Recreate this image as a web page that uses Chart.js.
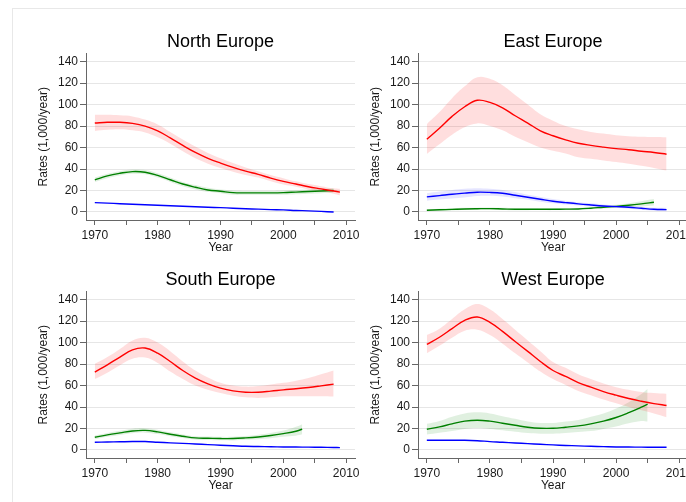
<!DOCTYPE html>
<html>
<head>
<meta charset="utf-8">
<script src="https://cdn.jsdelivr.net/npm/chart.js@4.4.1/dist/chart.umd.min.js"></script>
<style>
  html, body { margin: 0; padding: 0; background: #fff; width: 686px; height: 502px; overflow: hidden; }
  #frame { position: absolute; left: 12px; top: 8px; width: 800px; height: 600px;
           border-top: 1px solid #e8e8e8; border-left: 1px solid #e8e8e8; }
  canvas { position: absolute; }
</style>
</head>
<body>
<div id="frame"></div>
<canvas id="north" width="335" height="234" style="left:32px;top:22px"></canvas>
<canvas id="east" width="336" height="234" style="left:364px;top:22px"></canvas>
<canvas id="south" width="335" height="234" style="left:32px;top:260px"></canvas>
<canvas id="west" width="336" height="234" style="left:364px;top:260px"></canvas>
<script>
// axis ticks
const xTicks = [1970, 1975, 1980, 1985, 1990, 1995, 2000, 2005, 2010];
const yTicks = [0, 20, 40, 60, 80, 100, 120, 140];

// ---- North Europe ----
const northRedYears = [1970,1972,1974,1976,1978,1980,1982,1984,1986,1988,1990,1992,1994,1996,1998,2000,2002,2004,2006,2008,2009];
const northRed   = [82.8,83.5,83.5,82.5,80,75.5,69,62,55.5,50,45.5,41.5,38,35,31.5,28.5,26,23.5,21.5,19.5,18.5];
const northRedHi = [90.5,90.5,90,89,86,81.5,74.5,67.5,61,55,50,45.5,41.5,38,34.5,31.5,28.5,26,24,22,21.5];
const northRedLo = [75.5,76.5,77,76,74,69.5,63.5,56.5,50,45,41,37.5,34.5,32,28.5,25.5,23.5,21,19,17,15.5];
const northGreenYears = [1970,1972,1974,1976,1978,1980,1982,1984,1986,1988,1990,1992,1994,1996,1998,2000,2002,2004,2006,2008];
const northGreen   = [29.9,33.6,36,37.6,37,34,30,26,23,20.5,19.3,18,17.8,17.8,17.8,18,18.5,19,19.5,20];
const northGreenHi = [32,35.5,38,39.5,39,36,32,28,25,22.5,21,20,19.5,19.5,19.5,20,20.5,21,21.5,22];
const northGreenLo = [28,31.5,34,35.5,35,32,28,24,21,18.5,17.5,16,16,16,16,16,16.5,17,17.5,18];
const northBlueYears = [1970,1972,1974,1976,1978,1980,1982,1984,1986,1988,1990,1992,1994,1996,1998,2000,2002,2004,2006,2008];
const northBlue = [8.7,8.2,7.7,7.2,6.7,6.2,5.8,5.3,4.9,4.4,4,3.5,3,2.6,2.2,1.9,1.4,1,0.5,0];

// ---- East Europe ----
const eastRedYears = [1970,1972,1974,1976,1978,1980,1982,1984,1986,1988,1990,1992,1994,1996,1998,2000,2002,2004,2006,2008];
const eastRed   = [67.8,78,89,98,104,102,97,89.6,82.8,75.6,71,67.2,64,62,60.4,59,58,56.6,55.4,53.8];
const eastRedHi = [81.8,93,106,117,125.5,124,118,109,100,91,85,80,77,74.5,73,71.5,70.5,70,69.7,69.5];
const eastRedLo = [54,63,72,79,82.5,80,76,70,65,60,57,54.5,51,49.5,48,46.5,45,43,41,38.5];
const eastBlueYears = [1970,1972,1974,1976,1978,1980,1982,1984,1986,1988,1990,1992,1994,1996,1998,2000,2002,2004,2006,2008];
const eastBlue   = [14,15.2,16.5,17.5,18.4,18.2,17.4,15.6,13.7,11.8,10,8.7,7.5,6.5,5.6,5,4.4,3.4,2.5,2.2];
const eastBlueHi = [17.5,19,20.5,21.5,22,21.5,20.5,18.5,16,14,12,10.5,9,8,7,6.3,5.8,4.8,4,3.8];
const eastBlueLo = [10.5,11.5,12.5,13.5,14.8,15,14.3,12.7,11.4,9.6,8,6.9,6,5,4.2,3.7,3,2,1,0.6];
const eastGreenYears = [1970,1972,1974,1976,1978,1980,1982,1984,1986,1988,1990,1992,1994,1996,1998,2000,2002,2004,2006];
const eastGreen   = [1.6,2,2.4,2.8,3,3.1,2.8,2.5,2.5,2.5,2.5,2.6,2.8,3.5,4.4,5.2,6.2,7.5,9];
const eastGreenHi = [2.5,3,3.4,3.8,4,4.1,3.8,3.5,3.4,3.3,3.3,3.4,3.7,4.5,5.6,6.8,8.2,10,12];
const eastGreenLo = [0.7,1,1.4,1.8,2,2.1,1.8,1.5,1.6,1.7,1.7,1.8,1.9,2.5,3.2,3.6,4.2,5,6];

// ---- South Europe ----
const southRedYears = [1970,1972,1974,1976,1978,1980,1982,1984,1986,1988,1990,1992,1994,1996,1998,2000,2002,2004,2006,2008];
const southRed   = [72.5,79.3,86.5,93.3,94.9,90.2,82.4,74,66.9,61.6,57.6,55,53.8,53.8,54.8,56,57,58.2,59.7,61.3];
const southRedHi = [80.3,86.5,94,102,104.5,100,92,82.5,74,67.5,62.5,60,59,59.5,61,62.5,64.5,67,70.5,74];
const southRedLo = [66,72,79,85,86,81,73,66,60,56,53,50.5,49,48.5,49,50,50,50,50,49.8];
const southGreenYears = [1970,1972,1974,1976,1978,1980,1982,1984,1986,1988,1990,1992,1994,1996,1998,2000,2002,2003];
const southGreen   = [11.8,14,15.9,17.7,18.2,16.8,14.6,12.8,11.2,10.9,10.6,10.6,11.2,12.1,13.4,15.2,17.4,19.3];
const southGreenHi = [13.5,15.8,17.8,19.8,20.3,18.8,16.4,14.5,12.8,12.5,12.2,12.3,13,14.2,15.8,18,21.5,24];
const southGreenLo = [10,12.2,14,15.6,16.1,14.8,12.8,11.1,9.6,9.3,9,8.9,9.4,10,11,12.4,13.3,14.6];
const southBlueYears = [1970,1972,1974,1976,1978,1980,1982,1984,1986,1988,1990,1992,1994,1996,1998,2000,2002,2004,2006,2008,2009];
const southBlue = [7.2,7.4,7.6,7.8,7.8,7.2,6.6,6.1,5.6,5,4.4,3.9,3.4,3.2,3,2.8,2.7,2.6,2.5,2.3,2.2];

// ---- West Europe ----
const westRedYears = [1970,1972,1974,1976,1978,1980,1982,1984,1986,1988,1990,1992,1994,1996,1998,2000,2002,2004,2006,2008];
const westRed   = [98.3,105,113,120.7,123.8,118.8,110.4,101,91.8,82.4,74,68.5,62.8,58.5,54.4,51,47.9,45.4,43.2,41.4];
const westRedHi = [107,113,122,131,136,131,122,112,102,92,82,76.5,70.5,66,62,58.5,56,54,53,52.3];
const westRedLo = [90,97,104.5,111,112,107,99,90,81.5,73,66,60.5,55,51,47,43.5,40,37,34,30.5];
const westGreenYears = [1970,1972,1974,1976,1978,1980,1982,1984,1986,1988,1990,1992,1994,1996,1998,2000,2002,2004,2005];
const westGreen   = [19.3,21.5,24.3,26.8,27.7,26.8,24.9,23,21.2,20.2,20.2,21.2,22.4,24.3,26.8,30.2,34.7,39.8,42.6];
const westGreenHi = [24.3,27,31,34,35,34,31.5,29,26.5,25.2,25.2,26.5,28,31,34,38.5,44.5,52,57];
const westGreenLo = [14.3,16,17.6,19.6,20.4,19.6,18.3,17,15.9,15.2,15.2,15.9,16.8,17.6,19.6,21.9,24.9,27,26.4];
const westBlueYears = [1970,1972,1974,1976,1978,1980,1982,1984,1986,1988,1990,1992,1994,1996,1998,2000,2002,2004,2006,2008];
const westBlue = [9,9,9,9,8.6,7.8,7.2,6.5,5.9,5.3,4.7,4.2,3.8,3.4,3.1,2.8,2.7,2.6,2.5,2.5];

// colours
const RED = '#ff0000', GREEN = '#008000', BLUE = '#0000ff';
const RED_BAND = 'rgba(255,0,0,0.13)';
const GREEN_BAND = 'rgba(0,128,0,0.12)';
const BLUE_BAND = 'rgba(0,0,255,0.10)';

Chart.defaults.font.family = '"Liberation Sans", Arial, sans-serif';
Chart.defaults.color = '#1a1a1a';

function pts(years, vals) {
  return years.map((x, i) => ({ x: x, y: vals[i] }));
}

// one fitted line, plus its band if lo/hi are given
function series(years, mean, color, band, lo, hi) {
  const sets = [];
  if (lo && hi) {
    sets.push({ data: pts(years, hi), borderColor: 'transparent', borderWidth: 0,
      backgroundColor: band, fill: '+1', pointRadius: 0, tension: 0.4, order: 2 });
    sets.push({ data: pts(years, lo), borderColor: 'transparent', borderWidth: 0,
      fill: false, pointRadius: 0, tension: 0.4, order: 2 });
  }
  sets.push({ data: pts(years, mean), borderColor: color, borderWidth: 1.4,
    fill: false, pointRadius: 0, tension: 0.4, order: 1 });
  return sets;
}

function drawPanel(id, title, datasets) {
  const tickFont = { size: 12 };
  new Chart(document.getElementById(id), {
    type: 'line',
    data: { datasets: datasets },
    options: {
      responsive: false,
      animation: false,
      layout: { padding: { left: 0, right: 12, top: 0, bottom: 0 } },
      plugins: {
        legend: { display: false },
        tooltip: { enabled: false },
        filler: { drawTime: 'beforeDatasetsDraw' },
        title: { display: true, text: title, fullSize: false, color: '#000',
          font: { size: 18, weight: 'normal' }, padding: { top: 9, bottom: 1 } }
      },
      scales: {
        x: {
          type: 'linear', min: 1968.6, max: 2011.4,
          afterBuildTicks: s => { s.ticks = xTicks.map(v => ({ value: v })); },
          afterFit: s => { s.height = 36; },
          ticks: { font: tickFont, padding: 3, maxRotation: 0, autoSkip: false,
            callback: v => (v % 10 === 0 ? String(v) : '') },
          grid: { drawOnChartArea: false, drawTicks: true, tickLength: 5, color: '#666' },
          border: { color: '#666', width: 1 },
          title: { display: true, text: 'Year', font: { size: 12 }, padding: { top: 0, bottom: 1 } }
        },
        y: {
          type: 'linear', min: -7.5, max: 147.5,
          afterBuildTicks: s => { s.ticks = yTicks.map(v => ({ value: v })); },
          afterFit: s => { s.width = 54; },
          ticks: { font: tickFont, padding: 2 },
          grid: { color: '#e6e6e6', tickColor: '#666', drawTicks: true, tickLength: 6 },
          border: { color: '#666', width: 1 },
          title: { display: true, text: 'Rates (1,000/year)', font: { size: 12 }, padding: { top: 4, bottom: 4 } }
        }
      }
    }
  });
}

drawPanel('north', 'North Europe', [
  ...series(northRedYears, northRed, RED, RED_BAND, northRedLo, northRedHi),
  ...series(northGreenYears, northGreen, GREEN, GREEN_BAND, northGreenLo, northGreenHi),
  ...series(northBlueYears, northBlue, BLUE, BLUE_BAND)
]);

drawPanel('east', 'East Europe', [
  ...series(eastRedYears, eastRed, RED, RED_BAND, eastRedLo, eastRedHi),
  ...series(eastBlueYears, eastBlue, BLUE, BLUE_BAND, eastBlueLo, eastBlueHi),
  ...series(eastGreenYears, eastGreen, GREEN, GREEN_BAND, eastGreenLo, eastGreenHi)
]);

drawPanel('south', 'South Europe', [
  ...series(southRedYears, southRed, RED, RED_BAND, southRedLo, southRedHi),
  ...series(southGreenYears, southGreen, GREEN, GREEN_BAND, southGreenLo, southGreenHi),
  ...series(southBlueYears, southBlue, BLUE, BLUE_BAND)
]);

drawPanel('west', 'West Europe', [
  ...series(westRedYears, westRed, RED, RED_BAND, westRedLo, westRedHi),
  ...series(westGreenYears, westGreen, GREEN, GREEN_BAND, westGreenLo, westGreenHi),
  ...series(westBlueYears, westBlue, BLUE, BLUE_BAND)
]);
</script>
</body>
</html>
